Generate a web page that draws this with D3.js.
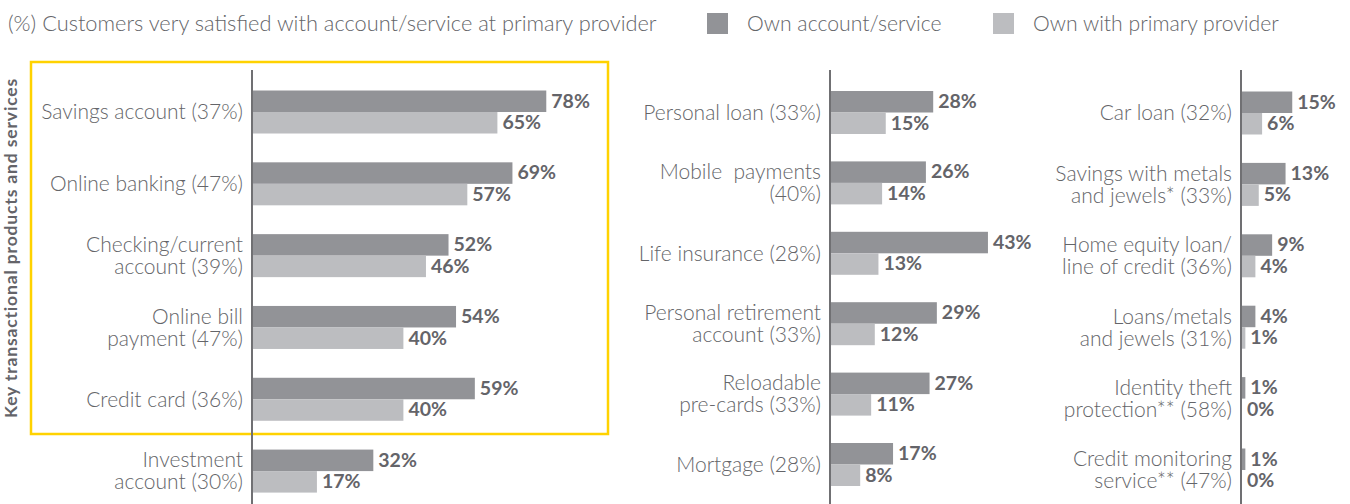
<!DOCTYPE html>
<html>
<head>
<meta charset="utf-8">
<script src="https://cdn.jsdelivr.net/npm/d3@7"></script>
<style>
  body { margin: 0; background: #fff; }
  svg { display: block; font-family: Lato, 'Open Sans', sans-serif; }
</style>
</head>
<body>
<script>
const width = 1350;
const height = 504;

const title = '(%) Customers very satisfied with account/service at primary provider';
const sideTitle = 'Key transactional products and services';
const seriesNames = ['Own account/service', 'Own with primary provider'];

// "|" splits a label into two lines
const keyCategories = ['Savings account (37%)', 'Online banking (47%)', 'Checking/current|account (39%)', 'Online bill|payment (47%)', 'Credit card (36%)', 'Investment|account (30%)'];
const keyOwn = [78, 69, 52, 54, 59, 32];
const keyPrimary = [65, 57, 46, 40, 40, 17];

const midCategories = ['Personal loan (33%)', 'Mobile\u00a0\u00a0payments|(40%)', 'Life insurance (28%)', 'Personal retirement|account (33%)', 'Reloadable|pre-cards (33%)', 'Mortgage (28%)'];
const midOwn = [28, 26, 43, 29, 27, 17];
const midPrimary = [15, 14, 13, 12, 11, 8];

const rightCategories = ['Car loan (32%)', 'Savings with metals|and jewels* (33%)', 'Home equity loan/|line of credit (36%)', 'Loans/metals|and jewels (31%)', 'Identity theft|protection** (58%)', 'Credit monitoring|service** (47%)'];
const rightOwn = [15, 13, 9, 4, 1, 1];
const rightPrimary = [6, 5, 4, 1, 0, 0];

const color = ['#929397', '#bcbdc0'];
const labelColor = '#646569';
const valueColor = '#646469';

const svg = d3.select('body')
  .append('svg')
    .attr('viewBox', [0, 0, width, height].join(' '))
    .attr('width', width)
    .attr('height', height);

// header
svg.append('text')
  .attr('x', 8)
  .attr('y', 23)
  .attr('dy', '0.35em')
  .attr('fill', labelColor)
  .attr('font-size', 21.8)
  .attr('font-weight', 300)
  .text(title);

const legend = svg.selectAll('.legend')
  .data(seriesNames)
  .enter()
    .append('g')
    .attr('class', 'legend')
    .attr('transform', (d, i) => `translate(${[707, 993][i]}, 13)`);

legend.append('rect')
  .attr('width', 21)
  .attr('height', 21)
  .attr('fill', (d, i) => color[i]);

legend.append('text')
  .attr('x', 40)
  .attr('y', 10.5)
  .attr('dy', '0.35em')
  .attr('fill', labelColor)
  .attr('font-size', 21.2)
  .attr('font-weight', 300)
  .text((d) => d);

// yellow highlight box + side title
svg.append('rect')
  .attr('x', 31)
  .attr('y', 62)
  .attr('width', 577)
  .attr('height', 372)
  .attr('fill', 'none')
  .attr('stroke', '#ffd200')
  .attr('stroke-width', 2.5);

svg.append('text')
  .attr('transform', 'translate(17, 248) rotate(-90)')
  .attr('text-anchor', 'middle')
  .attr('fill', valueColor)
  .attr('font-size', 17.5)
  .attr('font-weight', 'bold')
  .attr('letter-spacing', 0.85)
  .text(sideTitle);

const build = (cats, own, primary, layout) => {
  const rows = cats.map((c, i) => ({ label: c, values: [own[i], primary[i]] }));

  const step = (layout.yRange[1] - layout.yRange[0]) / cats.length;
  const pad = 1 - 43 / step;

  const y = d3.scaleBand()
    .domain(cats)
    .range(layout.yRange)
    .paddingInner(pad)
    .paddingOuter(pad / 2);

  const ySub = d3.scaleBand()
    .domain([0, 1])
    .range([0, y.bandwidth()]);

  const x = d3.scaleLinear()
    .domain([0, 100])
    .range([layout.axisX, layout.axisX + layout.span]);

  const g = svg.append('g');

  const row = g.selectAll('.row')
    .data(rows)
    .enter()
      .append('g')
      .attr('class', 'row')
      .attr('transform', (d) => `translate(0, ${y(d.label)})`);

  const label = row.append('text')
    .attr('x', layout.axisX - 10)
    .attr('text-anchor', 'end')
    .attr('fill', labelColor)
    .attr('font-size', 21)
    .attr('font-weight', 300);

  label.selectAll('tspan')
    .data((d) => d.label.split('|').map((t, i, a) => ({ t, dy: (i - (a.length - 1) / 2) * 22 })))
    .enter()
      .append('tspan')
      .attr('x', layout.axisX - 10)
      .attr('y', (d) => y.bandwidth() / 2 + d.dy)
      .attr('dy', '0.35em')
      .text((d) => d.t);

  row.selectAll('rect.bar')
    .data((d) => d.values)
    .enter()
      .append('rect')
      .attr('class', 'bar')
      .attr('x', x(0))
      .attr('y', (d, i) => ySub(i))
      .attr('width', (d) => x(d) - x(0))
      .attr('height', ySub.bandwidth())
      .attr('fill', (d, i) => color[i]);

  row.selectAll('text.value')
    .data((d) => d.values)
    .enter()
      .append('text')
      .attr('class', 'value')
      .attr('x', (d) => x(d) + 5)
      .attr('y', (d, i) => ySub(i) + ySub.bandwidth() / 2 - 0.5)
      .attr('dy', '0.35em')
      .attr('fill', valueColor)
      .attr('font-size', 19.5)
      .attr('font-weight', 'bold')
      .text((d) => d + '%');

  g.append('line')
    .attr('x1', layout.axisX - 1)
    .attr('x2', layout.axisX - 1)
    .attr('y1', 70)
    .attr('y2', height)
    .attr('stroke', '#707073')
    .attr('stroke-width', 2);
};

build(keyCategories, keyOwn, keyPrimary, { axisX: 253, span: 376, yRange: [76.1, 507] });
build(midCategories, midOwn, midPrimary, { axisX: 831, span: 365, yRange: [77.3, 499.7] });
build(rightCategories, rightOwn, rightPrimary, { axisX: 1242, span: 335, yRange: [77.3, 505.7] });
</script>
</body>
</html>
